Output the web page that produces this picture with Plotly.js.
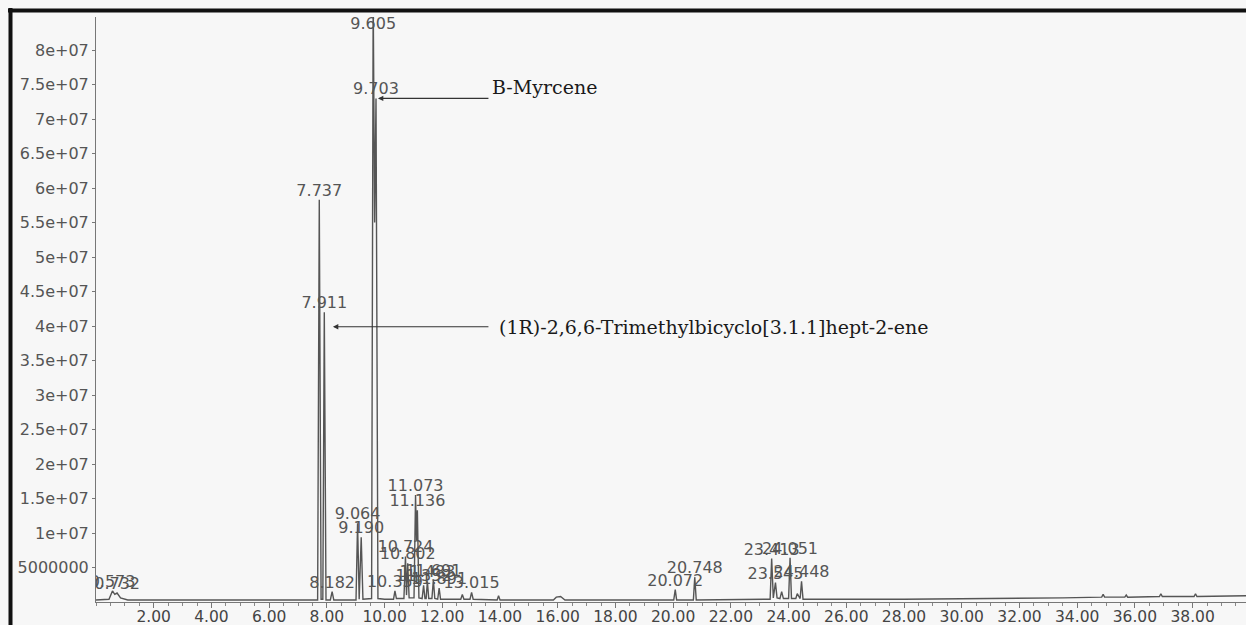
<!DOCTYPE html>
<html>
<head>
<meta charset="utf-8">
<script src="https://cdn.plot.ly/plotly-3.0.1.min.js"></script>
<style>
  html, body { margin: 0; padding: 0; background: #f7f7f7; }
  #chart { width: 1246px; height: 625px; }
</style>
</head>
<body>
<div id="chart"></div>
<script>
// Retention time (min) of the chromatogram trace points
const rt = [0.00, 0.45, 0.57, 0.65, 0.73, 0.85, 1.10, 2.00, 4.00, 6.00, 7.00, 7.68, 7.737, 7.80, 7.86, 7.911, 7.97, 8.12, 8.182, 8.24,
  9.01, 9.064, 9.12, 9.190, 9.25, 9.55, 9.605, 9.655, 9.703, 9.77, 10.00, 10.31, 10.359, 10.41, 10.67, 10.724, 10.76, 10.802, 10.85,
  11.02, 11.073, 11.105, 11.136, 11.19, 11.30, 11.352, 11.40, 11.44, 11.483, 11.53, 11.64, 11.691, 11.74, 11.84, 11.891, 11.94,
  12.64, 12.694, 12.75, 12.96, 13.015, 13.07, 13.90, 13.95, 14.00, 15.85, 15.95, 16.10, 16.25, 19.00, 20.02, 20.072, 20.12,
  20.70, 20.748, 20.80, 21.50, 23.36, 23.413, 23.47, 23.545, 23.60, 23.70, 23.76, 23.82, 24.00, 24.051, 24.10, 24.25, 24.30,
  24.40, 24.448, 24.50, 28.00, 33.50, 34.85, 34.90, 34.95, 35.65, 35.70, 35.75, 36.85, 36.90, 36.95, 38.05, 38.10, 38.15, 39.85];
// Abundance (millions of counts) at each trace point
const abundance = [0.3, 0.4, 1.6, 1.1, 1.3, 0.6, 0.3, 0.3, 0.25, 0.3, 0.3, 0.3, 58.3, 0.4, 0.4, 42.0, 0.3, 0.3, 1.5, 0.3,
  0.3, 11.4, 0.4, 9.4, 0.4, 0.5, 88.0, 55.0, 73.0, 0.5, 0.4, 0.4, 1.6, 0.5, 0.5, 6.6, 1.0, 5.6, 0.6,
  0.6, 15.5, 9.0, 13.3, 0.6, 0.5, 2.4, 0.5, 0.5, 3.0, 0.5, 0.5, 3.2, 0.5, 0.4, 2.0, 0.4,
  0.4, 1.1, 0.4, 0.4, 1.4, 0.4, 0.3, 0.9, 0.3, 0.3, 0.7, 0.8, 0.3, 0.3, 0.3, 1.8, 0.3,
  0.3, 3.6, 0.3, 0.3, 0.4, 6.3, 0.6, 2.8, 0.6, 0.5, 1.5, 0.5, 0.5, 6.4, 0.5, 0.5, 1.2,
  0.5, 3.0, 0.4, 0.4, 0.6, 0.7, 1.1, 0.7, 0.7, 1.0, 0.7, 0.8, 1.2, 0.8, 0.8, 1.2, 0.8, 0.9];

// Labelled peaks
const peakRT = [0.573, 0.732, 7.737, 7.911, 8.182, 9.064, 9.190, 9.605, 9.703, 10.359, 10.724, 10.802, 11.073, 11.136,
  11.352, 11.483, 11.691, 11.891, 13.015, 20.072, 20.748, 23.413, 23.545, 24.051, 24.448];
const peakHeight = [1.6, 1.3, 58.3, 42.0, 1.5, 11.4, 9.4, 88.0, 73.0, 1.6, 6.6, 5.6, 15.5, 13.3,
  2.4, 3.0, 3.2, 2.0, 1.4, 1.8, 3.6, 6.3, 2.8, 6.4, 3.0];

// Axis ticks
const xTickVals = [2, 4, 6, 8, 10, 12, 14, 16, 18, 20, 22, 24, 26, 28, 30, 32, 34, 36, 38];
const xTickText = ["2.00", "4.00", "6.00", "8.00", "10.00", "12.00", "14.00", "16.00", "18.00", "20.00", "22.00", "24.00",
  "26.00", "28.00", "30.00", "32.00", "34.00", "36.00", "38.00"];
const yTickVals = [5, 10, 15, 20, 25, 30, 35, 40, 45, 50, 55, 60, 65, 70, 75, 80];
const yTickText = ["5000000", "1e+07", "1.5e+07", "2e+07", "2.5e+07", "3e+07", "3.5e+07", "4e+07", "4.5e+07", "5e+07",
  "5.5e+07", "6e+07", "6.5e+07", "7e+07", "7.5e+07", "8e+07"];

// Identified compounds
const compounds = ["B-Myrcene", "(1R)-2,6,6-Trimethylbicyclo[3.1.1]hept-2-ene"];

const yMax = 84.8;
const xMax = 39.85;

const labelY = peakHeight.map(h => Math.min(h, yMax));
const labelPos = peakHeight.map(h => h > yMax ? 'bottom center' : 'top center');

const trace = {
  x: rt, y: abundance, type: 'scatter', mode: 'lines',
  line: { color: '#555555', width: 1.4 },
  hoverinfo: 'skip', showlegend: false
};
const labels = {
  x: peakRT, y: labelY, type: 'scatter', mode: 'text',
  text: peakRT.map(v => v.toFixed(3)),
  textposition: labelPos,
  textfont: { family: 'DejaVu Sans', size: 16, color: '#555555' },
  cliponaxis: true, hoverinfo: 'skip', showlegend: false
};

const pxX = p => (p - 96) / 1150;
const pxY = q => (602 - q) / 585;

const layout = {
  width: 1246, height: 625,
  margin: { l: 96, r: 0, t: 17, b: 23 },
  paper_bgcolor: '#f7f7f7', plot_bgcolor: '#f7f7f7',
  xaxis: {
    range: [0, xMax], showgrid: false, zeroline: false,
    showline: true, linecolor: '#777', linewidth: 1,
    tickmode: 'array', tickvals: xTickVals, ticktext: xTickText,
    ticks: 'outside', ticklen: 5, tickcolor: '#777',
    ticklabelstandoff: -5,
    minor: { tick0: 0, dtick: 0.5, ticks: 'outside', ticklen: 3, tickcolor: '#888' },
    tickfont: { family: 'DejaVu Sans', size: 15.5, color: '#444' }
  },
  yaxis: {
    range: [0, yMax], showgrid: false, zeroline: false,
    showline: true, linecolor: '#777', linewidth: 1,
    tickmode: 'array', tickvals: yTickVals, ticktext: yTickText,
    ticks: 'outside', ticklen: 3, tickcolor: '#777',
    tickfont: { family: 'DejaVu Sans', size: 16, color: '#555' }
  },
  shapes: [
    { type: 'line', xref: 'paper', yref: 'paper', x0: pxX(8), x1: 1.0, y0: pxY(10.5), y1: pxY(10.5), line: { color: '#111', width: 4 } },
    { type: 'line', xref: 'paper', yref: 'paper', x0: pxX(10.5), x1: pxX(10.5), y0: pxY(625), y1: pxY(8), line: { color: '#111', width: 4 } }
  ],
  annotations: [
    { x: 9.77, y: 73.0, xref: 'x', yref: 'y', text: '', showarrow: true, ax: 112, ay: 0,
      arrowhead: 2, arrowsize: 0.9, arrowwidth: 1.2, arrowcolor: '#333' },
    { x: 8.21, y: 39.9, xref: 'x', yref: 'y', text: '', showarrow: true, ax: 157, ay: 0,
      arrowhead: 2, arrowsize: 0.9, arrowwidth: 1.2, arrowcolor: '#333' },
    { x: 13.65, y: 74.6, xref: 'x', yref: 'y', text: compounds[0], showarrow: false,
      xanchor: 'left', yanchor: 'middle', font: { family: 'DejaVu Serif', size: 19, color: '#1a1a1a' } },
    { x: 13.9, y: 39.9, xref: 'x', yref: 'y', text: compounds[1], showarrow: false,
      xanchor: 'left', yanchor: 'middle', font: { family: 'DejaVu Serif', size: 19, color: '#1a1a1a' } }
  ]
};

Plotly.newPlot('chart', [trace, labels], layout, { displayModeBar: false, staticPlot: true });
</script>
</body>
</html>
